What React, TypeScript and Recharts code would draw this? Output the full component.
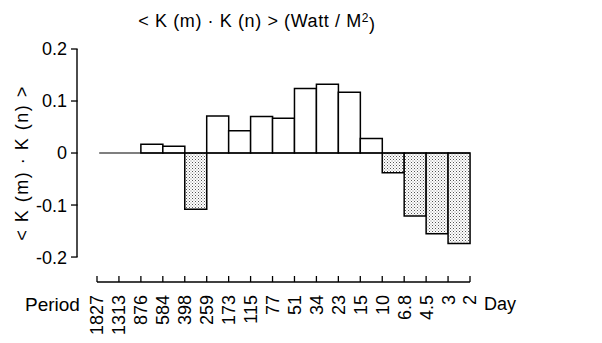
import React from 'react';
import { BarChart, Bar, XAxis, YAxis, Cell, ReferenceLine } from 'recharts';

// period boundaries (days), bars sit between neighbouring boundaries
const PERIODS = ['1827', '1313', '876', '584', '398', '259', '173', '115', '77', '51', '34', '23', '15', '10', '6.8', '4.5', '3', '2'];
const BIN_VALUES = [0, 0, 0.017, 0.013, -0.108, 0.071, 0.043, 0.07, 0.067, 0.124, 0.132, 0.117, 0.028, -0.038, -0.121, -0.155, -0.174];
const Y_TICKS = [-0.2, -0.1, 0, 0.1, 0.2];
const Y_TICK_LABELS = ['-0.2', '-0.1', '0', '0.1', '0.2'];
const Y_MIN = -0.248;
const Y_MAX = 0.2;

const FONT = '"Liberation Sans", Arial, sans-serif';
const GAP_LEFT = 20; // x axis starts a bit right of the y axis line
const MARGIN = { top: 49, right: 132, bottom: 60, left: 17 };
const Y_AXIS_W = 60;
const PLOT_H = 233;
const yPix = (v: number) => MARGIN.top + ((Y_MAX - v) / (Y_MAX - Y_MIN)) * PLOT_H;

const data = BIN_VALUES.map((v, i) => ({ bin: PERIODS[i] + '-' + PERIODS[i + 1], pos: i + 0.5, value: v }));
const boundaryTicks = PERIODS.map((_, i) => i);
const nBins = BIN_VALUES.length;

const PeriodTick = (props: any) => {
  const { x, y, payload } = props;
  return (
    <g>
      <line x1={x} y1={y - 6} x2={x} y2={y} stroke="#000" strokeWidth={1.3} />
      <text
        x={x}
        y={y + 13}
        transform={`rotate(-90 ${x} ${y + 13})`}
        textAnchor="end"
        dy="0.36em"
        fontSize={18}
        fontFamily={FONT}
        fill="#000"
      >
        {PERIODS[payload.value]}
      </text>
    </g>
  );
};

const ValueTick = (props: any) => {
  const { x, y, payload } = props;
  const idx = Y_TICKS.indexOf(payload.value);
  return (
    <g>
      <rect x={x - 6} y={y - 0.65} width={6.6} height={1.3} fill="#000" />
      <text x={x - 10} y={y} dy="0.36em" textAnchor="end" fontSize={18} fontFamily={FONT} fill="#000">
        {Y_TICK_LABELS[idx]}
      </text>
    </g>
  );
};

export default function App() {
  const axisX = MARGIN.left + Y_AXIS_W;
  return (
    <div style={{ position: 'absolute', left: 0, top: 0, width: 602, height: 343, background: '#fff' }}>
      <svg width={602} height={343} style={{ position: 'absolute', left: 0, top: 0, pointerEvents: 'none' }}>
        <text x={257} y={21} dy="0.36em" textAnchor="middle" fontSize={18} letterSpacing={0.6} fontFamily={FONT} fill="#000">
          {'< K (m) · K (n) > (Watt / M'}
          <tspan dy="-0.45em" fontSize={12}>2</tspan>
          <tspan dy="0.45em">)</tspan>
        </text>
        <text
          x={22}
          y={163}
          transform="rotate(-90 22 163)"
          textAnchor="middle"
          dy="0.36em"
          fontSize={18}
          letterSpacing={1.5}
          fontFamily={FONT}
          fill="#000"
        >
          {'< K (m) · K (n) >'}
        </text>
        <text x={25} y={304} dy="0.36em" fontSize={19} fontFamily={FONT} fill="#000">Period</text>
        <text x={484} y={304} dy="0.36em" fontSize={18} fontFamily={FONT} fill="#000">Day</text>
      </svg>
      <BarChart
        width={602}
        height={343}
        data={data}
        margin={MARGIN}
        barCategoryGap={0}
      >
        <defs>
          <pattern id="stipple" width={3} height={3} patternUnits="userSpaceOnUse">
            <rect width={3} height={3} fill="#fff" />
            <rect x={0} y={0} width={1} height={1} fill="#555" />
            <rect x={1.5} y={1.5} width={1} height={1} fill="#888" />
          </pattern>
        </defs>
        <XAxis dataKey="bin" xAxisId="bins" orientation="top" height={0} padding={{ left: GAP_LEFT, right: 0 }} hide />
        <XAxis
          xAxisId="lbl"
          type="number"
          dataKey="pos"
          domain={[0, nBins]}
          ticks={boundaryTicks}
          interval={0}
          tickSize={0}
          tickMargin={0}
          tickLine={false}
          axisLine={false}
          padding={{ left: GAP_LEFT, right: 0 }}
          tick={<PeriodTick />}
          height={1}
          allowDataOverflow
        />
        <YAxis
          width={Y_AXIS_W}
          domain={[Y_MIN, Y_MAX]}
          ticks={Y_TICKS}
          interval={0}
          axisLine={false}
          tickSize={0}
          tickMargin={0}
          tickLine={false}
          tick={<ValueTick />}
          allowDataOverflow
        />
        {/* x axis base line */}
        <ReferenceLine
          xAxisId="lbl"
          segment={[{ x: 0, y: Y_MIN }, { x: nBins, y: Y_MIN }]}
          stroke="#000"
          strokeWidth={1.3}
          ifOverflow="visible"
        />
        {/* zero line */}
        <ReferenceLine
          xAxisId="lbl"
          segment={[{ x: 0.1, y: 0 }, { x: nBins, y: 0 }]}
          stroke="#000"
          strokeWidth={1.2}
          ifOverflow="visible"
        />
        <Bar xAxisId="bins" dataKey="value" stroke="#000" strokeWidth={1.5} isAnimationActive={false}>
          {data.map((d, i) => (
            <Cell key={i} fill={d.value < 0 ? 'url(#stipple)' : '#fff'} strokeWidth={d.value === 0 ? 0 : 1.5} />
          ))}
        </Bar>
      </BarChart>
      {/* detached y axis line, -0.2 .. 0.2, drawn on top */}
      <svg width={602} height={343} style={{ position: 'absolute', left: 0, top: 0, zIndex: 2, pointerEvents: 'none' }}>
        <line
          x1={axisX}
          y1={yPix(Y_TICKS[0])}
          x2={axisX}
          y2={yPix(Y_TICKS[Y_TICKS.length - 1])}
          stroke="#000"
          strokeWidth={1.4}
        />
      </svg>
    </div>
  );
}
